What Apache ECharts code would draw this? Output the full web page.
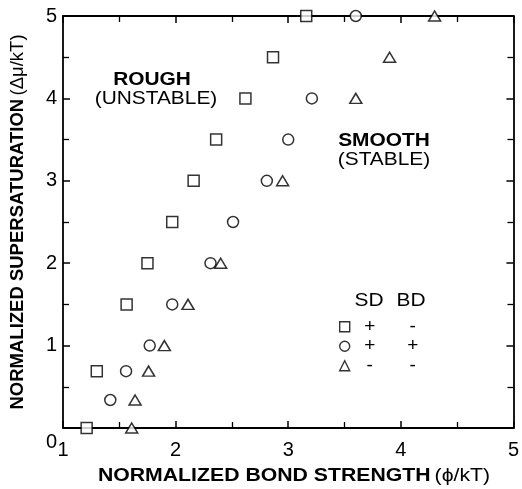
<!DOCTYPE html>
<html>
<head>
<meta charset="utf-8">
<script src="https://cdn.jsdelivr.net/npm/echarts@6/dist/echarts.min.js"></script>
<style>
  html, body { margin: 0; padding: 0; background: #fff; }
  #chart { width: 522px; height: 489px; }
</style>
</head>
<body>
<div id="chart"></div>
<script>
// Normalized bond strength (phi/kT) vs normalized supersaturation (dmu/kT)
// at the rough/smooth crystal-surface boundary, for three growth models.

// SD +, BD -
const bondSquare = [1.21, 1.30, 1.565, 1.75, 1.97, 2.16, 2.36, 2.62, 2.865, 3.16];
const satSquare  = [0, 0.69, 1.5, 2.0, 2.5, 3.0, 3.5, 4.0, 4.5, 5.0];

// SD +, BD +
const bondCircle = [1.42, 1.56, 1.77, 1.97, 2.31, 2.51, 2.81, 3.00, 3.21, 3.60];
const satCircle  = [0.34, 0.69, 1.0, 1.5, 2.0, 2.5, 3.0, 3.5, 4.0, 5.0];

// SD -, BD -
const bondTriangle = [1.61, 1.64, 1.76, 1.90, 2.11, 2.40, 2.95, 3.60, 3.90, 4.30];
const satTriangle  = [0, 0.34, 0.69, 1.0, 1.5, 2.0, 3.0, 4.0, 4.5, 5.0];

// SD / BD flags for each model, in legend order
const modelNames = ['square', 'circle', 'triangle'];
const sdFlags = ['+', '+', '-'];
const bdFlags = ['-', '+', '-'];

const xTicks = [1, 2, 3, 4, 5];
const yTicks = [0, 1, 2, 3, 4, 5];

const FONT = '"Liberation Sans", Arial, Helvetica, sans-serif';
const STRETCH = 1.16;

function pairs(xs, ys) { return xs.map((x, i) => [x, ys[i]]); }

const markerStyle = { color: '#fff', borderColor: '#000', borderWidth: 1.5 };

const chart = echarts.init(document.getElementById('chart'), null, { renderer: 'canvas' });

const baseAxis = {
  axisLine: { show: true, onZero: false, lineStyle: { color: '#000', width: 1.8 } },
  axisTick: { show: true, inside: true, length: 7, lineStyle: { color: '#000', width: 1.5 } },
  minorTick: { show: true, splitNumber: 2, length: 6, lineStyle: { color: '#000', width: 1.3 } },
  splitLine: { show: false },
  minorSplitLine: { show: false }
};

const option = {
  backgroundColor: '#fff',
  animation: false,
  grid: { left: 63, right: 7, top: 16, bottom: 61, containLabel: false },
  xAxis: [
    Object.assign({}, baseAxis, {
      type: 'value', min: xTicks[0], max: xTicks[xTicks.length - 1], interval: 1,
      position: 'bottom',
      axisLabel: {
        color: '#000', fontFamily: FONT, fontSize: 20, margin: 12,
        formatter: v => xTicks.includes(v) ? String(v) : ''
      }
    }),
    Object.assign({}, baseAxis, {
      type: 'value', min: xTicks[0], max: xTicks[xTicks.length - 1], interval: 1,
      position: 'top',
      axisLabel: { show: false }
    })
  ],
  yAxis: [
    Object.assign({}, baseAxis, {
      type: 'value', min: yTicks[0], max: yTicks[yTicks.length - 1], interval: 1,
      position: 'left',
      name: '{b|NORMALIZED SUPERSATURATION} {n|(Δμ/kT)}',
      nameLocation: 'middle',
      nameRotate: 90,
      nameGap: 36,
      nameTextStyle: {
        rich: {
          b: { fontFamily: FONT, fontSize: 18.5, fontWeight: 'bold', color: '#000' },
          n: { fontFamily: FONT, fontSize: 18.5, color: '#000' }
        }
      },
      axisLabel: {
        color: '#000', fontFamily: FONT, fontSize: 20, margin: 6,
        formatter: v => v === 0 ? '{z|0}' : String(v),
        rich: { z: { fontFamily: FONT, fontSize: 20, color: '#000', padding: [28, 0, 0, 0] } }
      }
    }),
    Object.assign({}, baseAxis, {
      type: 'value', min: yTicks[0], max: yTicks[yTicks.length - 1], interval: 1,
      position: 'right',
      axisLabel: { show: false }
    })
  ],
  legend: {
    orient: 'vertical',
    left: 334,
    top: 312,
    itemWidth: 10,
    itemHeight: 10,
    itemGap: 0,
    selectedMode: false,
    data: modelNames,
    itemStyle: { color: '#fff', borderColor: '#000', borderWidth: 1.4 },
    formatter: name => {
      const i = modelNames.indexOf(name);
      return '{a|' + sdFlags[i] + '}{b|' + bdFlags[i] + '}';
    },
    textStyle: {
      color: '#000', fontFamily: FONT, fontSize: 19, lineHeight: 19.5,
      rich: {
        a: { width: 30, align: 'center', fontFamily: FONT, fontSize: 19, color: '#000', lineHeight: 19.5 },
        b: { width: 56, align: 'center', fontFamily: FONT, fontSize: 19, color: '#000', lineHeight: 19.5 }
      }
    }
  },
  graphic: [
    {
      type: 'text', x: 152, y: 80, scaleX: STRETCH, silent: true,
      style: { text: 'ROUGH', font: 'bold 18px ' + FONT, fill: '#000', textAlign: 'center', textVerticalAlign: 'middle' }
    },
    {
      type: 'text', x: 156, y: 99, scaleX: STRETCH, silent: true,
      style: { text: '(UNSTABLE)', font: '18px ' + FONT, fill: '#000', textAlign: 'center', textVerticalAlign: 'middle' }
    },
    {
      type: 'text', x: 384, y: 141, scaleX: STRETCH, silent: true,
      style: { text: 'SMOOTH', font: 'bold 18px ' + FONT, fill: '#000', textAlign: 'center', textVerticalAlign: 'middle' }
    },
    {
      type: 'text', x: 384, y: 160, scaleX: STRETCH, silent: true,
      style: { text: '(STABLE)', font: '18px ' + FONT, fill: '#000', textAlign: 'center', textVerticalAlign: 'middle' }
    },
    {
      type: 'text', x: 369, y: 301, scaleX: STRETCH, silent: true,
      style: { text: 'SD', font: '18px ' + FONT, fill: '#000', textAlign: 'center', textVerticalAlign: 'middle' }
    },
    {
      type: 'text', x: 411, y: 301, scaleX: STRETCH, silent: true,
      style: { text: 'BD', font: '18px ' + FONT, fill: '#000', textAlign: 'center', textVerticalAlign: 'middle' }
    },
    {
      type: 'text', x: 294, y: 476, scaleX: 1.18, silent: true,
      style: {
        text: '{b|NORMALIZED BOND STRENGTH} {n|(ϕ/kT)}',
        textAlign: 'center', textVerticalAlign: 'middle',
        rich: {
          b: { font: 'bold 18px ' + FONT, fill: '#000' },
          n: { font: '18px ' + FONT, fill: '#000' }
        }
      }
    }
  ],
  series: [
    {
      name: 'square', type: 'scatter', xAxisIndex: 0, yAxisIndex: 0, clip: false,
      symbol: 'rect', symbolSize: 11,
      itemStyle: markerStyle,
      data: pairs(bondSquare, satSquare), z: 5
    },
    {
      name: 'circle', type: 'scatter', xAxisIndex: 0, yAxisIndex: 0, clip: false,
      symbol: 'circle', symbolSize: 11,
      itemStyle: markerStyle,
      data: pairs(bondCircle, satCircle), z: 5
    },
    {
      name: 'triangle', type: 'scatter', xAxisIndex: 0, yAxisIndex: 0, clip: false,
      symbol: 'triangle', symbolSize: [12, 10],
      itemStyle: markerStyle,
      data: pairs(bondTriangle, satTriangle), z: 5
    }
  ]
};

chart.setOption(option);
</script>
</body>
</html>
